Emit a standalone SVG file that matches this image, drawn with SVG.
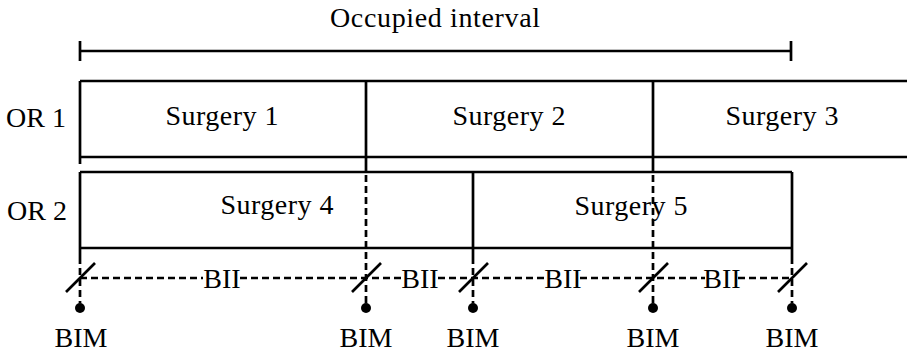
<svg xmlns="http://www.w3.org/2000/svg" width="907" height="353" viewBox="0 0 907 353">
<style>
text{font-family:"Liberation Serif","Times New Roman",serif;font-size:28px;fill:#000;text-anchor:middle}
.s{stroke:#000;stroke-width:2.7;fill:none}
.d{stroke:#000;stroke-width:2.7;fill:none;stroke-dasharray:7 4}
.dot{fill:#000}
</style>
<rect width="907" height="353" fill="#fff"/>
<g id="occupied-interval">
<text x="435" y="27" textLength="210" lengthAdjust="spacing">Occupied interval</text>
<line class="s" x1="80" y1="51" x2="791" y2="51"/>
<line class="s" x1="80" y1="41" x2="80" y2="61"/>
<line class="s" x1="791" y1="41" x2="791" y2="61"/>
</g>
<g id="or1">
<text x="36" y="127">OR 1</text>
<line class="s" x1="80" y1="81" x2="907" y2="81"/>
<line class="s" x1="80" y1="157" x2="907" y2="157"/>
<line class="s" x1="80" y1="81" x2="80" y2="164"/>
</g>
<g id="surgery1"><text x="222" y="125" textLength="113" lengthAdjust="spacing">Surgery 1</text></g>
<g id="surgery2"><line class="s" x1="366" y1="81" x2="366" y2="164"/><text x="509" y="125" textLength="113" lengthAdjust="spacing">Surgery 2</text></g>
<g id="surgery3"><line class="s" x1="653" y1="81" x2="653" y2="164"/><text x="782" y="125" textLength="113" lengthAdjust="spacing">Surgery 3</text></g>
<g id="or2">
<text x="37" y="220">OR 2</text>
<line class="s" x1="80" y1="172" x2="792" y2="172"/>
<line class="s" x1="80" y1="248" x2="792" y2="248"/>
<line class="s" x1="80" y1="172" x2="80" y2="257"/>
<line class="s" x1="792" y1="172" x2="792" y2="257"/>
</g>
<g id="surgery4"><text x="277" y="214" textLength="113" lengthAdjust="spacing">Surgery 4</text></g>
<g id="surgery5"><line class="s" x1="473" y1="172" x2="473" y2="257"/><text x="631" y="215" textLength="113" lengthAdjust="spacing">Surgery 5</text></g>
<g id="connectors">
<line class="d" x1="366" y1="164" x2="366" y2="303"/>
<line class="d" x1="653" y1="164" x2="653" y2="303"/>
<line class="d" x1="80" y1="257" x2="80" y2="303"/>
<line class="d" x1="473" y1="257" x2="473" y2="303"/>
<line class="d" x1="792" y1="257" x2="792" y2="303"/>
<line class="d" x1="80" y1="278" x2="203" y2="278"/>
<line class="d" x1="240" y1="278" x2="402" y2="278"/>
<line class="d" x1="438" y1="278" x2="547" y2="278"/>
<line class="d" x1="580" y1="278" x2="705" y2="278"/>
<line class="d" x1="738" y1="278" x2="792" y2="278"/>
<line class="s" x1="66" y1="292" x2="95" y2="263"/>
<line class="s" x1="352" y1="292" x2="381" y2="263"/>
<line class="s" x1="459" y1="292" x2="488" y2="263"/>
<line class="s" x1="639" y1="292" x2="668" y2="263"/>
<line class="s" x1="778" y1="292" x2="807" y2="263"/>
<circle class="dot" cx="80" cy="308" r="5"/>
<circle class="dot" cx="366" cy="308" r="5"/>
<circle class="dot" cx="473" cy="308" r="5"/>
<circle class="dot" cx="653" cy="308" r="5"/>
<circle class="dot" cx="792" cy="308" r="5"/>
</g>
<g id="labels">
<text x="222" y="288">BII</text>
<text x="420" y="288">BII</text>
<text x="563" y="288">BII</text>
<text x="722" y="288">BII</text>
<text x="81" y="347">BIM</text>
<text x="366" y="347">BIM</text>
<text x="473" y="347">BIM</text>
<text x="653" y="347">BIM</text>
<text x="792" y="347">BIM</text>
</g>
</svg>
